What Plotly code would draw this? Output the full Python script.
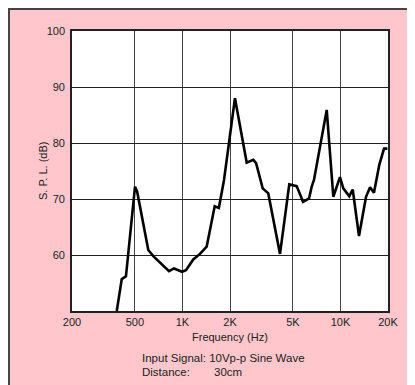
import plotly.graph_objects as go

freq_hz = [384, 413, 439, 501, 517, 608, 654, 757, 822, 884, 994, 1053, 1171, 1291, 1424,
           1600, 1700, 1833, 2150, 2551, 2809, 2925, 3221, 3494, 4145, 4745, 5285, 5800,
           6330, 6577, 6801, 8188, 9015, 9934, 10425, 11380, 11960, 13105, 14520, 15390,
           16300, 17620, 18870, 19820]
spl_db = [50.0, 55.7, 56.2, 72.2, 71.3, 60.9, 59.8, 58.0, 57.1, 57.6, 57.0, 57.3, 59.2, 60.2, 61.5,
          68.7, 68.4, 73.4, 88.0, 76.5, 77.0, 76.4, 71.9, 71.0, 60.2, 72.6, 72.3, 69.5,
          70.1, 72.2, 73.4, 85.9, 70.4, 73.9, 71.9, 70.5, 71.7, 63.4, 70.4, 72.1,
          71.1, 76.1, 79.0, 79.0]

x_ticks = [200, 500, 1000, 2000, 5000, 10000, 20000]
x_tick_labels = ["200", "500", "1K", "2K", "5K", "10K", "20K"]
y_ticks = [60, 70, 80, 90, 100]

PINK = "#FFC7CB"
FONT = "Liberation Sans, Arial, sans-serif"

fig = go.Figure()
fig.add_trace(go.Scatter(x=freq_hz, y=spl_db, mode="lines",
                         line=dict(color="black", width=2.6), hoverinfo="skip"))

# figure is placed at (8, 8) by the page's body margin
OFF = 8
W, H = 415 - OFF, 385 - OFF
L, R, T, B = 72 - OFF, 415 - 388, 31 - OFF, 385 - 311
pw, ph = W - L - R, H - T - B

def px_x(p):
    return (p - OFF - L) / pw

def px_y(p):
    return (H - B - (p - OFF)) / ph

fig.update_layout(
    width=W, height=H,
    margin=dict(l=L, r=R, t=T, b=B, pad=0),
    paper_bgcolor=PINK,
    plot_bgcolor="white",
    showlegend=False,
    font=dict(family=FONT, size=11, color="#222"),
    xaxis=dict(type="log", range=[2.30103, 4.30103], tickvals=x_ticks, ticktext=x_tick_labels,
               showgrid=True, gridcolor="#444", gridwidth=1.3, showline=True, mirror=True,
               linecolor="#222", linewidth=1.6, ticks="", zeroline=False,
               tickfont=dict(family=FONT, size=11, color="#222")),
    yaxis=dict(range=[50, 100], tickvals=y_ticks, showgrid=True, gridcolor="#222", gridwidth=1.3,
               showline=True, mirror=True, linecolor="#222", linewidth=1.6, ticks="",
               zeroline=False, ticklabelstandoff=3,
               tickfont=dict(family=FONT, size=11, color="#222")),
    shapes=[
        dict(type="line", xref="paper", yref="paper", layer="above",
             x0=px_x(8), x1=1.3, y0=px_y(9), y1=px_y(9), line=dict(color="#444", width=2)),
        dict(type="line", xref="paper", yref="paper", layer="above",
             x0=px_x(9), x1=px_x(9), y0=-0.5, y1=px_y(8), line=dict(color="#444", width=2)),
    ],
    annotations=[
        dict(text="Frequency (Hz)", xref="paper", yref="paper", x=0.5, y=px_y(337),
             showarrow=False, xanchor="center", yanchor="middle", font=dict(size=11)),
        dict(text="S. P. L. (dB)", xref="paper", yref="paper", x=px_x(43), y=0.5,
             showarrow=False, xanchor="center", yanchor="middle", textangle=-90, font=dict(size=11)),
        dict(text="Input Signal: 10Vp-p Sine Wave", xref="paper", yref="paper", x=px_x(140),
             y=px_y(358), showarrow=False, xanchor="left", yanchor="middle", font=dict(size=11.5)),
        dict(text="Distance:", xref="paper", yref="paper", x=px_x(140),
             y=px_y(372), showarrow=False, xanchor="left", yanchor="middle", font=dict(size=11.5)),
        dict(text="30cm", xref="paper", yref="paper", x=px_x(212),
             y=px_y(372), showarrow=False, xanchor="left", yanchor="middle", font=dict(size=11.5)),
    ],
)

fig.write_html("out.html")
